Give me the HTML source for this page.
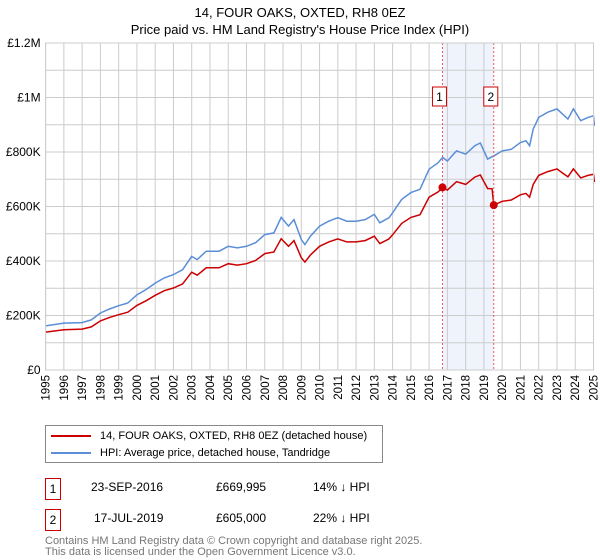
<!DOCTYPE html>
<html><head><meta charset="utf-8"><style>
body{margin:0;background:#fff;font-family:"Liberation Sans","DejaVu Sans",sans-serif;}
#wrap{position:relative;width:600px;height:560px;overflow:hidden;}
.t{position:absolute;font-size:12px;color:#000;}
.box{position:absolute;border:1px solid #c00;width:14px;height:20px;text-align:center;line-height:20px;font-size:12px;}
</style></head><body><div id="wrap">
<div class="t" style="left:0;width:600px;text-align:center;top:4px;font-size:13px;line-height:17px">14, FOUR OAKS, OXTED, RH8 0EZ<br>Price paid vs. HM Land Registry's House Price Index (HPI)</div>
<svg id="chart" width="600" height="410" style="position:absolute;left:0;top:0" font-family="Liberation Sans, DejaVu Sans, sans-serif" font-size="12"></svg>
<div style="position:absolute;left:45px;top:425px;width:336px;height:36px;border:1px solid #888;">
 <div style="position:absolute;left:5px;top:4px;font-size:11px;white-space:nowrap"><span style="display:inline-block;width:40px;height:2px;background:#c00;vertical-align:middle;margin-right:9px"></span>14, FOUR OAKS, OXTED, RH8 0EZ (detached house)</div>
 <div style="position:absolute;left:5px;top:21px;font-size:11px;white-space:nowrap"><span style="display:inline-block;width:40px;height:2px;background:#5b8ed6;vertical-align:middle;margin-right:9px"></span>HPI: Average price, detached house, Tandridge</div>
</div>
<div class="box" style="left:45px;top:478px">1</div>
<div class="t" style="left:91px;top:480px">23-SEP-2016</div>
<div class="t" style="left:216px;top:480px">£669,995</div>
<div class="t" style="left:313px;top:480px">14% ↓ HPI</div>
<div class="box" style="left:45px;top:509px">2</div>
<div class="t" style="left:94px;top:511px">17-JUL-2019</div>
<div class="t" style="left:216px;top:511px">£605,000</div>
<div class="t" style="left:313px;top:511px">22% ↓ HPI</div>
<div class="t" style="left:45px;top:536px;font-size:11px;color:#777;line-height:11px">Contains HM Land Registry data © Crown copyright and database right 2025.<br>This data is licensed under the Open Government Licence v3.0.</div>
</div>
<script>
const hpiYears=[1995,1996,1997,1997.5,1998,1998.5,1999,1999.5,2000,2000.5,2001,2001.5,2002,2002.5,2003,2003.3,2003.8,2004.5,2005,2005.5,2006,2006.5,2007,2007.5,2007.9,2008.3,2008.6,2009,2009.2,2009.5,2010,2010.5,2011,2011.5,2012,2012.5,2013,2013.3,2013.8,2014,2014.5,2015,2015.5,2016,2016.5,2016.73,2017,2017.5,2018,2018.5,2018.8,2019.2,2019.6,2020,2020.5,2021,2021.3,2021.5,2021.7,2022,2022.5,2023,2023.3,2023.6,2023.9,2024.3,2024.7,2025,2025.05];
const hpiValues=[162,172,174,184,209,224,236,246,276,295,319,338,350,368,417,405,436,436,454,448,454,467,497,503,560,528,552,479,460,491,528,546,559,546,546,552,571,540,559,577,626,651,663,737,761,780,767,804,792,823,833,774,788,804,810,835,841,823,884,927,946,958,939,921,958,915,927,933,896];
const priceYears=[1995,1996,1997,1997.5,1998,1998.5,1999,1999.5,2000,2000.5,2001,2001.5,2002,2002.5,2003,2003.3,2003.8,2004.5,2005,2005.5,2006,2006.5,2007,2007.5,2007.9,2008.3,2008.6,2009,2009.2,2009.5,2010,2010.5,2011,2011.5,2012,2012.5,2013,2013.3,2013.8,2014,2014.5,2015,2015.5,2016,2016.5,2016.73,2017,2017.5,2018,2018.5,2018.8,2019.2,2019.45,2019.54,2019.6,2020,2020.5,2021,2021.3,2021.5,2021.7,2022,2022.5,2023,2023.3,2023.6,2023.9,2024.3,2024.7,2025,2025.05];
const priceValues=[139,148,150,158,180,193,203,212,237,254,274,291,301,316,359,348,375,375,390,385,390,402,427,433,482,454,475,412,396,422,454,470,481,470,470,475,491,464,481,496,538,560,570,634,654,670,660,691,681,708,716,666,665,605,607,619,624,643,648,634,681,714,728,738,723,709,738,705,714,718,690];
const saleYears=[2016.73,2019.54];
const saleValues=[669.995,605];
const saleLabels=["1","2"];
const yTicks=[0,200,400,600,800,1000,1200];
const yTickLabels=["£0","£200K","£400K","£600K","£800K","£1M","£1.2M"];
const xTicks=[1995,1996,1997,1998,1999,2000,2001,2002,2003,2004,2005,2006,2007,2008,2009,2010,2011,2012,2013,2014,2015,2016,2017,2018,2019,2020,2021,2022,2023,2024,2025];

const L=45.6,R=593.5,T=43,B=370,X0=1995,X1=2025,YMAX=1200;
const xs=y=>L+(y-X0)/(X1-X0)*(R-L);
const ys=v=>B-v/YMAX*(B-T);
const svg=document.getElementById('chart');
const NS='http://www.w3.org/2000/svg';
function mk(tag,attrs){const e=document.createElementNS(NS,tag);for(const k in attrs)e.setAttribute(k,attrs[k]);svg.appendChild(e);return e;}

let e=mk('rect',{x:xs(saleYears[0]),y:T,width:xs(saleYears[1])-xs(saleYears[0]),height:B-T,fill:'#eef3fc'});


for(let v=0;v<=YMAX;v+=100){
 e=mk('line',{x1:L,x2:R,y1:ys(v),y2:ys(v),stroke:'#ccc','stroke-width':1});
 
 
}
xTicks.forEach(y=>{
 e=mk('line',{x1:xs(y),x2:xs(y),y1:T,y2:B,stroke:'#ccc','stroke-width':1});
 
 
 const t=mk('text',{x:0,y:0,transform:`translate(${xs(y)+4},${B+5}) rotate(-90)`,'text-anchor':'end','font-size':11.5});
 t.textContent=y;
 
 
});
yTicks.forEach((v,i)=>{
 const t=mk('text',{x:L-5,y:ys(v)+4,'text-anchor':'end','font-size':12});
 t.textContent=yTickLabels[i];
 
 
});
function path(xa,va){return xa.map((x,i)=>(i?'L':'M')+xs(x).toFixed(1)+','+ys(va[i]).toFixed(1)).join('');}
e=mk('path',{d:path(hpiYears,hpiValues),fill:'none',stroke:'#5b8ed6','stroke-width':1.5});


e=mk('path',{d:path(priceYears,priceValues),fill:'none',stroke:'#cc0000','stroke-width':1.5});


saleYears.forEach((y,i)=>{
 e=mk('line',{x1:xs(y),x2:xs(y),y1:T,y2:B,stroke:'#e55','stroke-width':1,'stroke-dasharray':'2,2'});
 
 
 e=mk('circle',{cx:xs(y),cy:ys(saleValues[i]),r:4,fill:'#cc0000'});
 
 
 e=mk('rect',{x:xs(y)-10,y:87,width:14,height:19,fill:'#fff',stroke:'#c00','stroke-width':1});
 
 
 const t=mk('text',{x:xs(y)-3,y:101,'text-anchor':'middle','font-size':12});
 t.textContent=saleLabels[i];
 
 
});
e=mk('rect',{x:L,y:T,width:R-L,height:B-T,fill:'none',stroke:'#ccc','stroke-width':1});


</script>
</body></html>
